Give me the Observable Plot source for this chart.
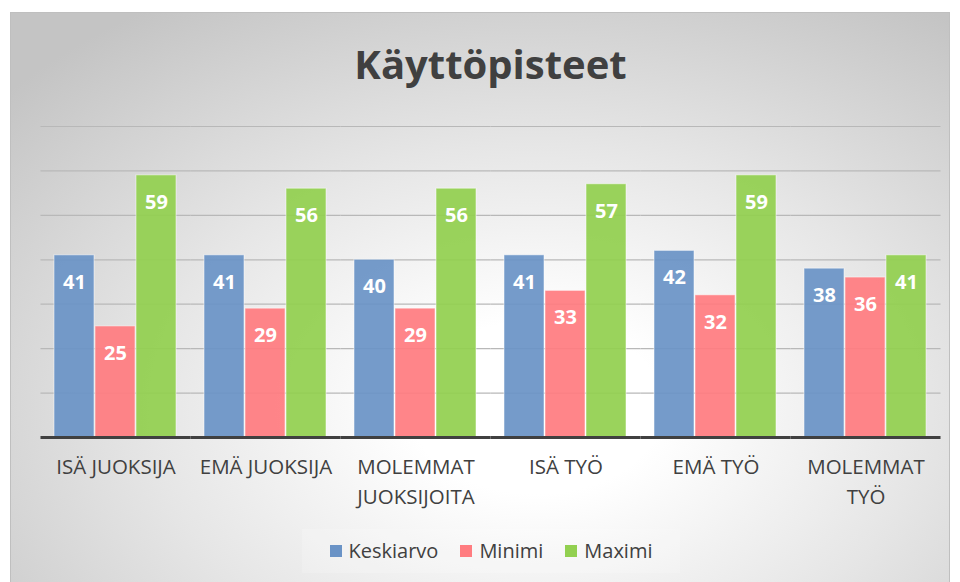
<!DOCTYPE html>
<html>
<head>
<meta charset="utf-8">
<script src="https://cdn.jsdelivr.net/npm/d3@7"></script>
<script src="https://cdn.jsdelivr.net/npm/@observablehq/plot@0.6"></script>
<style>
  html, body { margin: 0; padding: 0; background: #ffffff; }
  #wrap { position: relative; width: 960px; height: 582px; overflow: hidden; font-family: "Open Sans", sans-serif; }
  #frame {
    position: absolute; left: 10px; top: 12px; width: 940px; height: 600px;
    border: 1px solid #bfbfbf; box-sizing: border-box;
    background: radial-gradient(ellipse 75% 80% at 56% 66%, #ffffff 18%, #e6e6e6 55%, #c4c4c4 100%);
  }
  #title { position: absolute; left: 40px; width: 901px; top: 44px; text-align: center;
    font-size: 40px; font-weight: 700; color: #404040; line-height: 1; }
  #legendbox { position: absolute; left: 302px; top: 529px; width: 378px; height: 44px; background: rgba(255,255,255,0.18); }
  #legend { position: absolute; left: 0; width: 982px; top: 537px; display: flex; justify-content: center; gap: 22px;
    font-size: 20px; color: #404040; line-height: 28px; }
  #legend .item { display: flex; align-items: center; gap: 7px; }
  #legend .sw { width: 12px; height: 12px; display: inline-block; }
  #chart { position: absolute; left: 0; top: 0; }
</style>
</head>
<body>
<div id="wrap">
  <div id="frame"></div>
  <div id="title">Käyttöpisteet</div>
  <div id="legendbox"></div>
  <div id="chart"></div>
  <div id="legend"></div>
</div>
<script>
const categories = ["ISÄ JUOKSIJA", "EMÄ JUOKSIJA", "MOLEMMAT JUOKSIJOITA", "ISÄ TYÖ", "EMÄ TYÖ", "MOLEMMAT TYÖ"];
const categoryLabels = ["ISÄ JUOKSIJA", "EMÄ JUOKSIJA", "MOLEMMAT\nJUOKSIJOITA", "ISÄ TYÖ", "EMÄ TYÖ", "MOLEMMAT\nTYÖ"];
const series = ["Keskiarvo", "Minimi", "Maximi"];
const keskiarvo = [41, 41, 40, 41, 42, 38];
const minimi = [25, 29, 29, 33, 32, 36];
const maximi = [59, 56, 56, 57, 59, 41];
const colors = ["#6a93c6", "#ff7c80", "#92d050"];
const yTicks = [10, 20, 30, 40, 50, 60, 70];

const values = [keskiarvo, minimi, maximi];
const data = [];
categories.forEach((c, i) => series.forEach((s, j) => data.push({category: c, series: s, value: values[j][i]})));

const width = 960, height = 582;
const marginLeft = 40, marginRight = 19, marginTop = 126, marginBottom = 145;
const pInner = 0.18, pOuter = 0.09;
const step = (width - marginLeft - marginRight) / (categories.length - pInner + 2 * pOuter);
const ext = -step * pOuter;

const chart = Plot.plot({
  width, height, marginLeft, marginRight, marginTop, marginBottom,
  style: {background: "transparent", overflow: "visible", fontFamily: "Open Sans"},
  fx: {domain: categories, paddingInner: pInner, paddingOuter: pOuter, axis: null, label: null},
  x: {domain: series, paddingInner: 0.02, paddingOuter: 0, axis: null},
  y: {domain: [0, 70], axis: null},
  color: {domain: series, range: colors},
  marks: [
    Plot.ruleY(yTicks, {stroke: "#b8b8b8", strokeWidth: 1.2, insetLeft: ext, insetRight: ext}),
    Plot.barY(data, {fx: "category", x: "series", y: "value", fill: "series", fillOpacity: 0.93,
      stroke: "#ffffff", strokeOpacity: 0.5, strokeWidth: 1}),
    Plot.text(data, {fx: "category", x: "series", y: "value", text: d => String(d.value), dy: 27,
      fill: "#ffffff", fontWeight: "bold", fontSize: 20}),
    Plot.ruleY([0], {stroke: "#404040", strokeWidth: 3, insetLeft: ext, insetRight: ext}),
    Plot.text(categories, {fx: d => d, text: d => categoryLabels[categories.indexOf(d)], frameAnchor: "bottom",
      lineAnchor: "top", dy: 15, fontSize: 20.5, fill: "#404040", lineHeight: 1.47})
  ]
});
document.getElementById("chart").appendChild(chart);

const legend = document.getElementById("legend");
series.forEach((s, j) => {
  const item = document.createElement("div");
  item.className = "item";
  const sw = document.createElement("span");
  sw.className = "sw";
  sw.style.background = colors[j];
  const t = document.createElement("span");
  t.textContent = s;
  item.appendChild(sw);
  item.appendChild(t);
  legend.appendChild(item);
});
</script>
</body>
</html>
